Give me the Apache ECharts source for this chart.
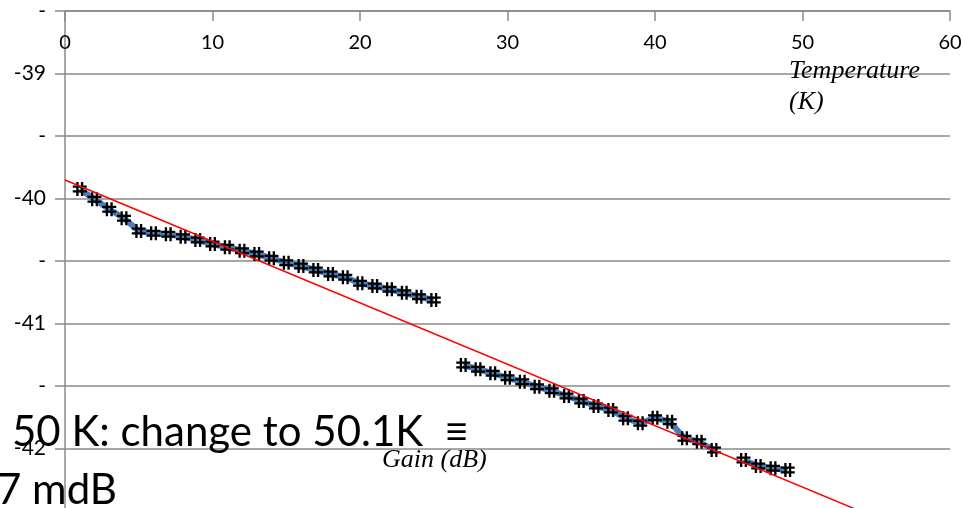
<!DOCTYPE html>
<html>
<head>
<meta charset="utf-8">
<script src="https://cdn.jsdelivr.net/npm/echarts@6/dist/echarts.min.js"></script>
<style>
html,body{margin:0;padding:0;background:#fff;}
#chart{width:963px;height:508px;}
</style>
</head>
<body>
<div id="chart"></div>
<script>
// Temperature (K) values
var temperatures = [1,2,3,4,5,6,7,8,9,10,11,12,13,14,15,16,17,18,19,20,21,22,23,24,25,26,27,28,29,30,31,32,33,34,35,36,37,38,39,40,41,42,43,44,45,46,47,48,49];
// Gain (dB) values; null = gap in the line
var gains = [-39.924,-40.006,-40.086,-40.158,-40.26,-40.278,-40.286,-40.306,-40.332,-40.364,
  -40.39,-40.418,-40.444,-40.478,-40.514,-40.54,-40.572,-40.604,-40.63,-40.678,
  -40.70,-40.726,-40.754,-40.786,-40.812,null,
  -41.332,-41.366,-41.398,-41.434,-41.466,-41.506,-41.538,-41.58,-41.62,-41.66,
  -41.692,-41.758,-41.798,-41.754,-41.786,-41.918,-41.946,-42.012,null,
  -42.092,-42.14,-42.158,-42.172];
// Linear trend line end points (Temperature, Gain)
var trendTemps = [0, 60];
var trendGains = [-39.852, -42.80];
// Axis ticks
var xTicks = [0,10,20,30,40,50,60];
var yMin = -42.5, yMax = -38.5, yStep = 0.5;
// Texts
var xName = 'Temperature\n(K)';
var yName = 'Gain (dB)';
var note1 = '50 K: change to 50.1K  \u2261';
var note2 = '7 mdB';

var mainData = temperatures.map(function(t, i){ return [t, gains[i] === null ? '-' : gains[i]]; });
var trendData = trendTemps.map(function(t, i){ return [t, trendGains[i]]; });

var gridColor = '#8a8a8a';
var hashSymbol = 'path://M3,0h2v12h-2z M7,0h2v12h-2z M0,3h12v2h-12z M0,7h12v2h-12z';

var chart = echarts.init(document.getElementById('chart'), null, {renderer: 'canvas'});
chart.setOption({
  animation: false,
  backgroundColor: '#fff',
  grid: {left: 65, right: 13, top: 11, height: 500, containLabel: false, outerBoundsMode: 'none'},
  xAxis: {
    type: 'value', position: 'top',
    min: xTicks[0], max: xTicks[xTicks.length-1], interval: 10,
    axisLine: {show: true, onZero: false, lineStyle: {color: gridColor, width: 1.5}},
    axisTick: {show: true, inside: true, length: 10, lineStyle: {color: gridColor, width: 1.5}},
    axisLabel: {inside: true, margin: 22, color: '#000', fontSize: 20, fontFamily: 'Lato'},
    splitLine: {show: false}
  },
  yAxis: {
    type: 'value', min: yMin, max: yMax, interval: yStep,
    axisLine: {show: true, lineStyle: {color: gridColor, width: 1.5}},
    axisTick: {show: true, length: 10, lineStyle: {color: gridColor, width: 1.5}},
    axisLabel: {margin: 19, color: '#000', fontSize: 21, fontFamily: 'Lato',
      formatter: function(v){ return Math.abs(v - Math.round(v)) < 1e-6 ? String(Math.round(v)) : '-'; }},
    splitLine: {show: true, lineStyle: {color: gridColor, width: 1.5}}
  },
  series: [
    {
      type: 'line', data: mainData, connectNulls: false,
      lineStyle: {color: '#4a7ebb', width: 6},
      symbol: hashSymbol, symbolSize: 14, showAllSymbol: true,
      itemStyle: {color: '#000'}, z: 3
    },
    {
      type: 'line', data: trendData, symbol: 'none',
      lineStyle: {color: '#ff0000', width: 1.5}, z: 4
    }
  ],
  graphic: [
    {type: 'text', left: 789, top: 56, z: 10,
     style: {text: xName, font: 'italic 26px "Liberation Serif"', fill: '#000', lineHeight: 31}},
    {type: 'text', x: 382, y: 460, z: 10,
     style: {text: yName, font: 'italic 26px "Liberation Serif"', fill: '#000', verticalAlign: 'middle'}},
    {type: 'text', x: 12, y: 432, z: 20,
     style: {text: note1, font: '42px Lato', fill: '#000', verticalAlign: 'middle'}},
    {type: 'text', x: -3, y: 490, z: 20,
     style: {text: note2, font: '42px Lato', fill: '#000', verticalAlign: 'middle'}}
  ]
});
</script>
</body>
</html>
